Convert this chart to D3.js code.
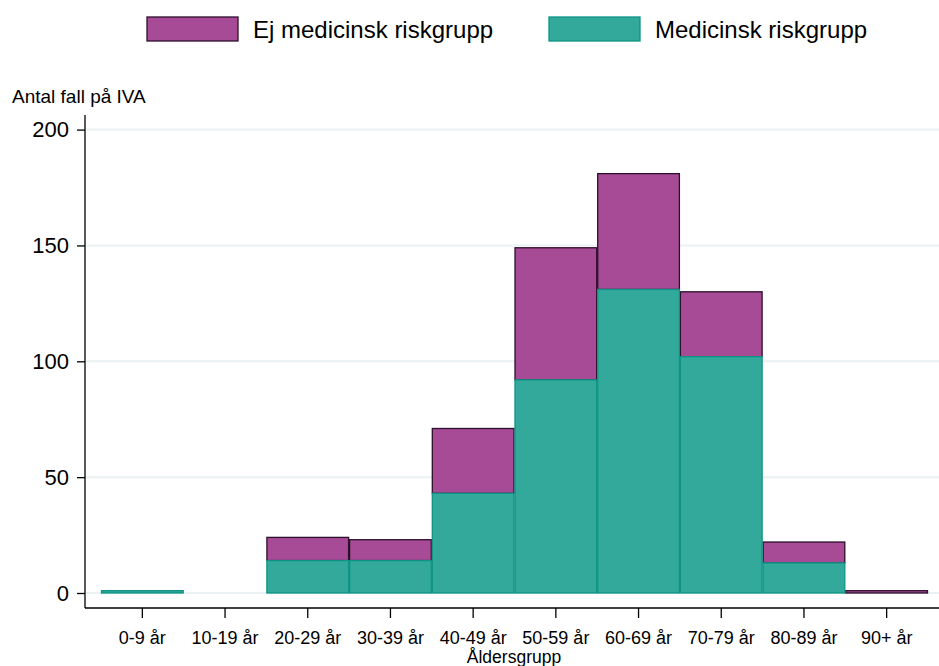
<!DOCTYPE html>
<html><head><meta charset="utf-8">
<script src="https://cdn.jsdelivr.net/npm/d3@7"></script>
<style>body{margin:0;background:#fff}svg{display:block;font-family:"Liberation Sans",Arial,sans-serif}</style>
</head><body><svg id="c" width="939" height="666"></svg>
<script>
const categories = ["0-9 år","10-19 år","20-29 år","30-39 år","40-49 år","50-59 år","60-69 år","70-79 år","80-89 år","90+ år"];
const medicinsk = [1,0,14,14,43,92,131,102,13,0];
const ejMedicinsk = [0,0,10,9,28,57,50,28,9,1];
const yTicks = [0,50,100,150,200];
const seriesNames = ["Ej medicinsk riskgrupp","Medicinsk riskgrupp"];

const svg = d3.select("#c");
const x = d3.scaleBand().domain(categories).range([101,928]).padding(0);
const y = d3.scaleLinear().domain([0,200]).range([593,129.6]);
const colPurple = "#a84b97", strokePurple = "#2c0f2a";
const colTeal = "#33a99c", strokeTeal = "#0d9484";
const FF = "Liberation Sans, Arial, sans-serif";

// gridlines
svg.append("g").selectAll("line").data(yTicks).join("line")
  .attr("x1",86).attr("x2",939).attr("y1",d=>y(d)).attr("y2",d=>y(d))
  .attr("stroke","#e9f1f3").attr("stroke-width",2);

const data = categories.map((c,i)=>({c, m:medicinsk[i], e:ejMedicinsk[i]}));
svg.append("g").selectAll("rect").data(data.filter(d=>d.e>0)).join("rect")
  .attr("x",d=>x(d.c)+0.5).attr("width",x.bandwidth()-1)
  .attr("y",d=>y(d.m+d.e)).attr("height",d=>y(d.m)-y(d.m+d.e))
  .attr("fill",colPurple).attr("stroke",strokePurple).attr("stroke-width",1.3);
svg.append("g").selectAll("rect").data(data.filter(d=>d.m>0)).join("rect")
  .attr("x",d=>x(d.c)+0.5).attr("width",x.bandwidth()-1)
  .attr("y",d=>y(d.m)).attr("height",d=>y(0)-y(d.m))
  .attr("fill",colTeal).attr("stroke",strokeTeal).attr("stroke-width",1.3);

// y axis
const ya = svg.append("g").attr("transform","translate(85,0)")
  .call(d3.axisLeft(y).tickValues(yTicks).tickSize(8).tickPadding(8));
ya.select(".domain").attr("d","M0,115V608");
ya.selectAll("text").attr("font-size",22).attr("fill","#000").attr("font-family",FF);
ya.selectAll("line,path").attr("stroke","#000").attr("stroke-width",1.3);

// x axis
const xa = svg.append("g").attr("transform","translate(0,608)")
  .call(d3.axisBottom(x).tickSize(10).tickPadding(6));
xa.select(".domain").attr("d","M85,0H939");
xa.selectAll("text").attr("font-size",18).attr("fill","#000").attr("font-family",FF)
  .attr("dy",null).attr("y",36);
xa.selectAll("line,path").attr("stroke","#000").attr("stroke-width",1.3);

svg.append("text").attr("x",514).attr("y",663).attr("text-anchor","middle")
  .attr("font-size",17.5).text("Åldersgrupp");
svg.append("text").attr("x",12).attr("y",103).attr("font-size",19).text("Antal fall på IVA");

// legend
const leg = [{n:seriesNames[0],f:colPurple,s:strokePurple,x:147},{n:seriesNames[1],f:colTeal,s:strokeTeal,x:549}];
const lg = svg.append("g").selectAll("g").data(leg).join("g");
lg.append("rect").attr("x",d=>d.x).attr("y",17).attr("width",91).attr("height",24)
  .attr("fill",d=>d.f).attr("stroke",d=>d.s).attr("stroke-width",1.3);
lg.append("text").attr("x",d=>d.x+106).attr("y",38).attr("font-size",24).text(d=>d.n);
</script></body></html>
